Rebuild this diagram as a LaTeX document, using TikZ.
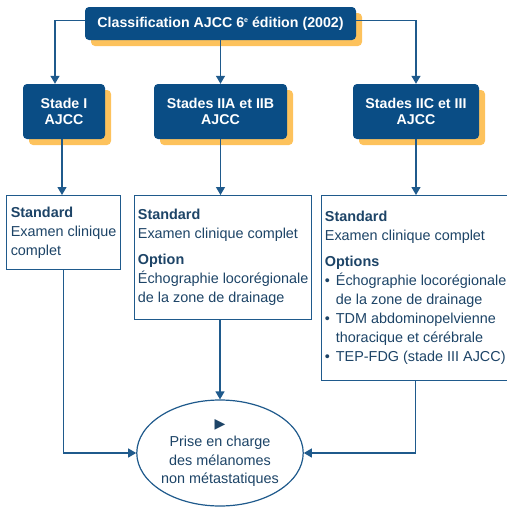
\documentclass[tikz,border=0pt]{standalone}
\usepackage{fontspec}
\setmainfont{Liberation Sans}
\newfontfamily\symbfont{DejaVu Sans}
\usetikzlibrary{arrows.meta,shadows,shapes.geometric}
\definecolor{ajccblue}{HTML}{0A4D85}
\definecolor{ajccline}{HTML}{1F5A8C}
\definecolor{ajcctext}{HTML}{1D4467}
\definecolor{ajccgold}{HTML}{FDC25C}
\tikzset{
    titlebox/.style={rectangle, rounded corners=4pt, fill=ajccblue, text=white,
        font=\bfseries\fontsize{14.2}{16.5}\selectfont, align=center,
        copy shadow={shadow xshift=6pt, shadow yshift=-6pt, fill=ajccgold, draw=none}},
    infobox/.style={rectangle, draw=ajccline, line width=1.2pt, fill=white, text=ajcctext,
        font=\fontsize{14.4}{19}\selectfont, align=left, anchor=north west},
    link/.style={draw=ajccline, line width=1.2pt, -{Triangle[width=9pt,length=8pt]}},
}
\newcommand{\puce}{\makebox[11pt][l]{\textbullet}}
\newcommand{\expo}[1]{\raisebox{4.5pt}{\fontsize{7}{7}\selectfont #1}}
\begin{document}
\begin{tikzpicture}[x=1pt, y=-1pt]
    % the frame
    \clip (0,0) rectangle (507,507);
    % the stages
    \node[titlebox, minimum width=271pt, minimum height=33pt] (classif) at (220.5,23.5)
        {Classification AJCC 6\expo{e} édition (2002)};
    \node[titlebox, minimum width=82pt, minimum height=55pt] (stadeI) at (64,111.5) {Stade I\\AJCC};
    \node[titlebox, minimum width=133pt, minimum height=55pt] (stadesII) at (220.5,111.5) {Stades IIA et IIB\\AJCC};
    \node[titlebox, minimum width=126pt, minimum height=55pt] (stadesIII) at (416,111.5) {Stades IIC et III\\AJCC};

    % the exams
    \node[infobox, minimum width=114pt, minimum height=74pt] (stdI) at (6,195)
        {\textbf{Standard}\\Examen clinique\\complet};
    \node[infobox, minimum width=172pt, minimum height=124pt] (stdII) at (134,195)
        {\textbf{Standard}\\Examen clinique complet\\[7pt]\textbf{Option}\\Échographie locorégionale\\de la zone de drainage};
    \node[infobox, minimum width=188pt, minimum height=185pt] (stdIII) at (321,195)
        {\textbf{Standard}\\Examen clinique complet\\[7pt]\textbf{Options}\\
         \puce Échographie locorégionale\\\hspace*{11pt}de la zone de drainage\\
         \puce TDM abdominopelvienne\\\hspace*{11pt}thoracique et cérébrale\\
         \puce TEP-FDG (stade III AJCC)};

    % the outcome
    \node[ellipse, draw=ajccline, line width=1.2pt, fill=white, minimum width=164pt, minimum height=106pt,
        inner sep=0pt, text=ajcctext, font=\fontsize{14.4}{18.5}\selectfont, align=center] (prise) at (220,453)
        {{\symbfont\fontsize{14}{14}\selectfont ▶}\\[0pt]Prise en charge\\des mélanomes\\non métastatiques};

    % arrows
    \draw[link] ([yshift=3pt]classif.west) -| ([xshift=-9pt]stadeI.north);
    \draw[link] (classif.south) -- (stadesII.north);
    \draw[link] ([yshift=3pt]classif.east) -| (stadesIII.north);
    \draw[link] ([xshift=-2pt]stadeI.south) -- ([xshift=-2pt]stadeI.south |- stdI.north);
    \draw[link] (stadesII.south) -- (stadesII.south |- stdII.north);
    \draw[link] (stadesIII.south) -- (stadesIII.south |- stdIII.north);
    \draw[link] (stdI.south) |- (prise.west);
    \draw[link] (stdII.south -| prise.north) -- (prise.north);
    \draw[link] (stdIII.south) |- (prise.east);
\end{tikzpicture}
\end{document}
